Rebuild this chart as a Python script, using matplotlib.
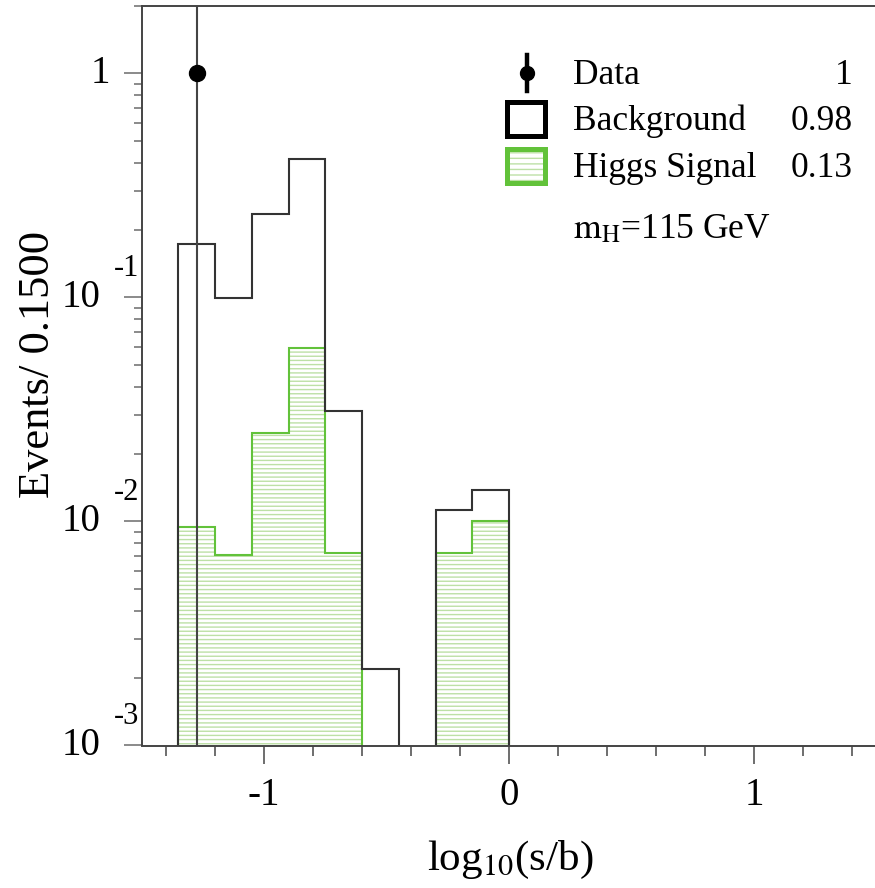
import numpy as np
import matplotlib.pyplot as plt
from matplotlib.lines import Line2D
from matplotlib.patches import Rectangle
from matplotlib.ticker import MultipleLocator, LogLocator, NullFormatter

plt.rcParams['font.family'] = ['Liberation Serif', 'DejaVu Serif']
plt.rcParams['mathtext.fontset'] = 'stix'
plt.rcParams['hatch.linewidth'] = 1.0

# ---- data ----
bin_edges = [-1.35, -1.2, -1.05, -0.9, -0.75, -0.6, -0.45, -0.3, -0.15, 0.0]
background = [0.174, 0.099, 0.237, 0.413, 0.031, 0.0022, 0.0, 0.0112, 0.0138]
higgs = [0.0094, 0.0071, 0.0249, 0.0596, 0.0072, 0.0, 0.0, 0.0072, 0.0101]
data_x = [-1.275]
data_y = [1.0]
data_err = [1.0]
legend_labels = ['Data', 'Background', 'Higgs Signal']
legend_values = ['1', '0.98', '0.13']
mass_label = r'$\mathrm{m_H}$=115 GeV'
xtick_vals = [-1, 0, 1]
xtick_labels = ['-1', '0', '1']
ytick_exps = [-3, -2, -1]

W, H = 875, 888
fig = plt.figure(figsize=(W / 100, H / 100), dpi=100)


def px(x, y):
    return x / W, 1 - y / H


GREEN = '#62c23a'
HATCH = '#bde0a6'
DARK = '#333333'
floor = 1e-5

ax = fig.add_axes([141.7 / W, 1 - 745.5 / H, 735 / W, (745.5 - 6) / H])
ax.set_yscale('log')
ax.set_xlim(-1.5, 1.5)
ax.set_ylim(1e-3, 2)

edges = np.array(bin_edges)
sig = np.array(higgs)
bkg = np.array(background)
sig_d = np.where(sig > 0, sig, floor)
bkg_d = np.where(bkg > 0, bkg, floor)

# signal: hatched fill + green outline
ax.stairs(sig_d, edges, baseline=floor, fill=True, facecolor='none',
          edgecolor=HATCH, hatch='----', linewidth=0)
ax.stairs(sig_d, edges, baseline=floor, color=GREEN, lw=1.5)
# background outline
ax.stairs(bkg_d, edges, baseline=floor, color=DARK, lw=1.5)

# data point with error
dx = np.array(data_x)
dy = np.array(data_y)
de = np.array(data_err)
ax.vlines(dx, np.maximum(dy - de, floor), dy + de, color='#444444', lw=1.5, zorder=5)
ax.plot(dx, dy, 'o', color='black', ms=11.5, zorder=6)

# axes style
for s in ['left', 'bottom', 'top']:
    ax.spines[s].set_color('#444444')
    ax.spines[s].set_linewidth(1.4)
ax.spines['right'].set_visible(False)

ax.xaxis.set_minor_locator(MultipleLocator(0.2))
ax.set_xticks(xtick_vals, labels=xtick_labels)
ax.tick_params(axis='x', which='major', direction='out', length=13, width=1.2,
               color='#555555', labelsize=28, pad=10)
ax.tick_params(axis='x', which='minor', direction='out', length=7, width=1.2,
               color='#555555')

ax.yaxis.set_major_locator(LogLocator(base=10, numticks=10))
ax.yaxis.set_minor_locator(LogLocator(base=10, subs=np.arange(2, 10), numticks=10))
ax.yaxis.set_major_formatter(NullFormatter())
ax.yaxis.set_minor_formatter(NullFormatter())
ax.tick_params(axis='y', which='major', direction='out', length=13, width=1.2,
               color='#777777')
ax.tick_params(axis='y', which='minor', direction='out', length=6, width=1.2,
               color='#777777')

# ROOT-style y tick labels
ytr = ax.get_yaxis_transform()
ax.text(-0.043, 1.0, '1', transform=ytr, ha='right', va='center', fontsize=28)
for k in ytick_exps:
    v = 10.0 ** k
    ax.text(-0.0567, v, '10', transform=ytr, ha='right', va='center', fontsize=28)
    ax.text(-0.003, v * 10 ** 0.13, '-%d' % abs(k), transform=ytr, ha='right',
            va='center', fontsize=22)

# axis titles
fig.text(*px(38, 364), 'Events/ 0.1500', rotation=90, ha='center', va='center',
         fontsize=32)
fig.text(*px(510, 860), r'log$_{10}$(s/b)', ha='center', va='center', fontsize=31)

# legend, drawn by hand
fig.add_artist(Line2D([px(527, 55)[0]] * 2, [px(0, 55)[1], px(0, 91)[1]],
                      transform=fig.transFigure, color='black', lw=3.2))
fig.add_artist(Line2D([px(527, 73)[0]], [px(0, 73)[1]], transform=fig.transFigure,
                      marker='o', color='black', ms=10))
x0, y0 = px(507, 136)
fig.add_artist(Rectangle((x0, y0), 38 / W, 34 / H, transform=fig.transFigure,
                         facecolor='white', edgecolor='black', lw=3.6))
x0, y0 = px(507, 183)
fig.add_artist(Rectangle((x0, y0), 38 / W, 34 / H, transform=fig.transFigure,
                         facecolor='white', edgecolor=HATCH, hatch='---', lw=0))
fig.add_artist(Rectangle((x0, y0), 38 / W, 34 / H, transform=fig.transFigure,
                         facecolor='none', edgecolor=GREEN, lw=3.6))

rows_y = [75, 121, 168]
for lab, val, yy in zip(legend_labels, legend_values, rows_y):
    fig.text(*px(573, yy), lab, ha='left', va='center', fontsize=25.5)
    fig.text(*px(853, yy), val, ha='right', va='center', fontsize=25.5)
fig.text(*px(573, 230), mass_label, ha='left', va='center', fontsize=25.5)

fig.savefig('out.png', dpi=100)
